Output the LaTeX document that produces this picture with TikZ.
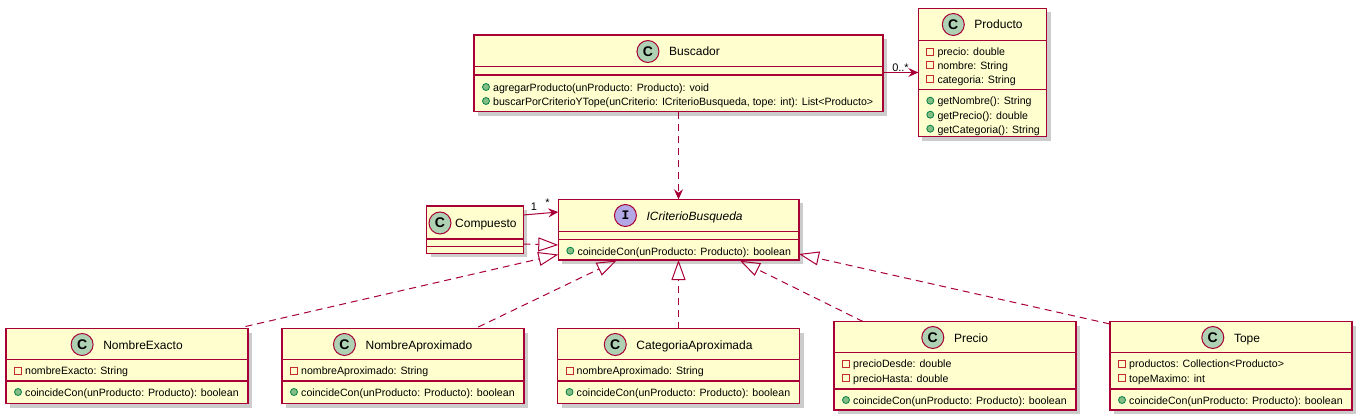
\documentclass[tikz,border=0pt]{standalone}
\usepackage{fontspec}
\setmainfont{Liberation Sans}
\newfontfamily\umlmono{Liberation Mono}
\usetikzlibrary{arrows.meta,shadows}
\definecolor{umlborder}{HTML}{A80036}
\definecolor{umlfill}{HTML}{FEFECE}
\definecolor{cgreen}{HTML}{ADD1B2}
\definecolor{ipurple}{HTML}{B4A7E5}
\definecolor{privred}{HTML}{C82930}
\definecolor{pubgreen}{HTML}{038048}
\definecolor{pubfill}{HTML}{84BE84}
\tikzset{
  classbox/.style={draw=umlborder, fill=umlfill, line width=1.2pt, rectangle,
    inner sep=0pt, outer sep=0pt, anchor=north west,
    drop shadow={shadow xshift=4pt, shadow yshift=-4pt, opacity=0.2, fill=black}},
  sepline/.style={draw=umlborder, line width=1.1pt},
  cicon/.style={circle, draw=umlborder, fill=cgreen, minimum size=22pt, inner sep=0pt,
    line width=1pt, font=\bfseries\fontsize{14}{14}\selectfont},
  iicon/.style={circle, draw=umlborder, fill=ipurple, minimum size=22pt, inner sep=0pt,
    line width=1pt, font=\umlmono\bfseries\fontsize{13}{13}\selectfont},
  cname/.style={anchor=base, inner sep=0pt, font=\fontsize{12}{14}\selectfont},
  member/.style={anchor=base west, inner sep=0pt, font=\fontsize{10.6}{13}\selectfont},
  privicon/.style={rectangle, draw=privred, minimum size=7pt, inner sep=0pt, line width=0.9pt},
  pubicon/.style={circle, draw=pubgreen, fill=pubfill, minimum size=7pt, inner sep=0pt, line width=0.8pt},
  conn/.style={draw=umlborder, line width=1pt},
  dashedconn/.style={conn, dash pattern=on 7pt off 5pt},
  assoc/.style={conn, -{Stealth[length=10pt,width=9pt,inset=3.5pt]}},
  depend/.style={dashedconn, -{Stealth[length=10pt,width=9pt,inset=3.5pt]}},
  realize/.style={dashedconn, -{Triangle[open,length=20pt,width=14pt]}},
  multlabel/.style={anchor=base, inner sep=0pt, font=\fontsize{11}{13}\selectfont},
}
% box: name, x1, y1, x2, y2
\newcommand\umlbox[5]{\node[classbox, minimum width={#4-#2}, minimum height={#5-#3}] (#1) at (#2,#3) {};}
% separator: box name, y
\newcommand\umlsep[2]{\draw[sepline] (#1.north west |- 0,#2) -- (#1.north east |- 0,#2);}
% header: box name, cx, cy, title, icon style, letter
\newcommand\umlhead[6]{%
  \node[cname] (#1-name) at (#2+16,#3+4.5) {#4};
  \node[#5] (#1-icon) at ([xshift=-21pt,yshift=4.5pt]#1-name.base west) {#6};}
% member: id, icon style, x-left of box, y, text
\newcommand\umlmem[5]{%
  \node[#2] (#1-i) at (#3+12,#4) {};
  \node[member] (#1) at (#3+19,#4+4.3) {#5};}
\begin{document}
\begin{tikzpicture}[x=1pt,y=-1pt]
\useasboundingbox (0,0) rectangle (1361,420);

% Buscador
\umlbox{buscador}{474}{35}{883}{111.5}
\umlsep{buscador}{66.7}
\umlsep{buscador}{75}
\umlhead{buscador}{678.5}{51.5}{Buscador}{cicon}{C}
\umlmem{bm1}{pubicon}{474}{87}{agregarProducto(unProducto: Producto): void}
\umlmem{bm2}{pubicon}{474}{101}{buscarPorCriterioYTope(unCriterio: ICriterioBusqueda, tope: int): List<Producto>}

% Producto
\umlbox{producto}{918.3}{8.3}{1046.7}{136.7}
\umlsep{producto}{40.7}
\umlsep{producto}{89.3}
\umlhead{producto}{982.5}{24.5}{Producto}{cicon}{C}
\umlmem{pa1}{privicon}{918.3}{51.7}{precio: double}
\umlmem{pa2}{privicon}{918.3}{65.4}{nombre: String}
\umlmem{pa3}{privicon}{918.3}{79}{categoria: String}
\umlmem{pm1}{pubicon}{918.3}{100.7}{getNombre(): String}
\umlmem{pm2}{pubicon}{918.3}{114.7}{getPrecio(): double}
\umlmem{pm3}{pubicon}{918.3}{128.7}{getCategoria(): String}

% ICriterioBusqueda
\umlbox{icriterio}{558.3}{199.3}{799}{260}
\umlsep{icriterio}{231.7}
\umlsep{icriterio}{239.3}
\umlhead{icriterio}{678.65}{215.5}{\itshape ICriterioBusqueda}{iicon}{I}
\umlmem{im1}{pubicon}{558.3}{250.7}{coincideCon(unProducto: Producto): boolean}

% Compuesto
\umlbox{compuesto}{426.7}{206}{523.3}{253.3}
\umlsep{compuesto}{239}
\umlsep{compuesto}{246.7}
\node[cname, anchor=base west] (compuesto-name) at (455,227.5) {Compuesto};
\node[cicon] (compuesto-icon) at (440,223) {C};

% NombreExacto
\umlbox{nexacto}{6}{328.5}{248}{403.5}
\umlsep{nexacto}{359.5}
\umlsep{nexacto}{381}
\umlhead{nexacto}{127}{344.5}{NombreExacto}{cicon}{C}
\umlmem{nea1}{privicon}{6}{370.5}{nombreExacto: String}
\umlmem{nem1}{pubicon}{6}{392}{coincideCon(unProducto: Producto): boolean}

% NombreAproximado
\umlbox{naprox}{282}{328.5}{524}{403.5}
\umlsep{naprox}{359.5}
\umlsep{naprox}{381}
\umlhead{naprox}{403}{344.5}{NombreAproximado}{cicon}{C}
\umlmem{naa1}{privicon}{282}{370.5}{nombreAproximado: String}
\umlmem{nam1}{pubicon}{282}{392}{coincideCon(unProducto: Producto): boolean}

% CategoriaAproximada
\umlbox{caprox}{557.5}{328.5}{799.5}{403.5}
\umlsep{caprox}{359.5}
\umlsep{caprox}{381}
\umlhead{caprox}{678.5}{344.5}{CategoriaAproximada}{cicon}{C}
\umlmem{caa1}{privicon}{557.5}{370.5}{nombreAproximado: String}
\umlmem{cam1}{pubicon}{557.5}{392}{coincideCon(unProducto: Producto): boolean}

% Precio
\umlbox{precio}{834}{321.7}{1076}{410}
\umlsep{precio}{352.7}
\umlsep{precio}{389}
\umlhead{precio}{955}{337.5}{Precio}{cicon}{C}
\umlmem{pra1}{privicon}{834}{363.5}{precioDesde: double}
\umlmem{pra2}{privicon}{834}{378}{precioHasta: double}
\umlmem{prm1}{pubicon}{834}{400}{coincideCon(unProducto: Producto): boolean}

% Tope
\umlbox{tope}{1110}{321.7}{1352}{410}
\umlsep{tope}{352.7}
\umlsep{tope}{389}
\umlhead{tope}{1231}{337.5}{Tope}{cicon}{C}
\umlmem{toa1}{privicon}{1110}{363.5}{productos: Collection<Producto>}
\umlmem{toa2}{privicon}{1110}{378}{topeMaximo: int}
\umlmem{tom1}{pubicon}{1110}{400}{coincideCon(unProducto: Producto): boolean}

% connectors
\draw[assoc] (buscador.east |- producto.west) -- (producto.west);
\node[multlabel] (lbl-prod) at (900.5,71) {0..*};
\draw[depend] (buscador.south) -- (buscador.south |- icriterio.north);
\draw[assoc] ([yshift=14.65pt]compuesto.east) -- ([yshift=17.65pt]icriterio.west);
\node[multlabel] (lbl-one) at (534,210.7) {1};
\node[multlabel] (lbl-star) at (547.5,206) {*};
\draw[realize] ([yshift=-14.35pt]compuesto.east) -- ([yshift=-15.35pt]icriterio.west);
\draw[realize] ([xshift=-2.5pt,yshift=2pt]nexacto.north east) -- ([yshift=-24.85pt]icriterio.west);
\draw[realize] ([xshift=75.3pt,yshift=1.5pt]naprox.north) -- ([xshift=-61.95pt,yshift=-0.5pt]icriterio.south);
\draw[realize] (caprox.north) -- (caprox.north |- icriterio.south);
\draw[realize] ([xshift=-91.7pt]precio.north) -- ([xshift=61.35pt,yshift=-0.7pt]icriterio.south);
\draw[realize] ([yshift=-2.3pt]tope.north west) -- ([yshift=-24.35pt]icriterio.east);
\end{tikzpicture}
\end{document}
